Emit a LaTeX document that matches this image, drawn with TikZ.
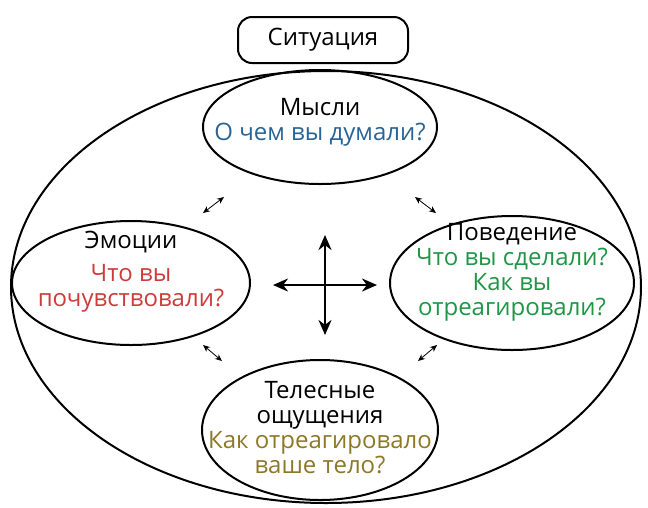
\documentclass[tikz,border=0pt]{standalone}
\usepackage{fontspec}
\setmainfont{Open Sans}
\usetikzlibrary{shapes.geometric,arrows.meta}
\definecolor{qblue}{RGB}{40,100,150}
\definecolor{qred}{RGB}{205,60,60}
\definecolor{qgreen}{RGB}{30,150,70}
\definecolor{qolive}{RGB}{140,120,40}
\begin{document}
\begin{tikzpicture}[x=1pt,y=-1pt,
  oval/.style={draw, line width=2pt, ellipse},
  txt/.style={align=center, font=\fontsize{24}{25}\selectfont},
  small/.style={{Stealth[length=7pt,width=6pt]}-{Stealth[length=7pt,width=6pt]}, line width=0.8pt},
  big/.style={{Stealth[length=15pt,width=13pt]}-{Stealth[length=15pt,width=13pt]}, line width=2.4pt}]
  \useasboundingbox (0,0) rectangle (648,507);
  \node[oval, minimum width=630, minimum height=432] (frame) at (326,287) {};
  \node[draw, line width=2pt, rounded corners=14pt, fill=white, minimum width=170, minimum height=46, txt] (sit) at (323,40) {Ситуация};
  \node[oval, minimum width=234, minimum height=114] (think) at (320,127) {};
  \node[txt] (thinkt) at (320,122) {Мысли\\\textcolor{qblue}{О чем вы думали?}};
  \node[oval, minimum width=238, minimum height=124] (emo) at (131,283) {};
  \node[txt] (emot) at (131,272) {Эмоции\\[8pt]\textcolor{qred}{Что вы}\\\textcolor{qred}{почувствовали?}};
  \node[oval, minimum width=244, minimum height=134] (act) at (512,283) {};
  \node[txt] (actt) at (512,272) {Поведение\\\textcolor{qgreen}{Что вы сделали?}\\\textcolor{qgreen}{Как вы}\\\textcolor{qgreen}{отреагировали?}};
  \node[oval, minimum width=236, minimum height=140] (body) at (320,430) {};
  \node[txt] (bodyt) at (320,428) {Телесные\\ощущения\\\textcolor{qolive}{Как отреагировало}\\\textcolor{qolive}{ваше тело?}};
  \coordinate (c) at (325,285);
  \draw[big] ([xshift=-52]c) -- ([xshift=52]c);
  \draw[big] ([yshift=-50]c) -- ([yshift=50]c);
  \coordinate (a1) at (203,213); \coordinate (a2) at (224,197);
  \coordinate (b1) at (415,197); \coordinate (b2) at (436,213);
  \coordinate (d1) at (203,345); \coordinate (d2) at (222,361);
  \coordinate (e1) at (418,361); \coordinate (e2) at (437,345);
  \draw[small] (a1) -- (a2);
  \draw[small] (b1) -- (b2);
  \draw[small] (d1) -- (d2);
  \draw[small] (e1) -- (e2);
\end{tikzpicture}
\end{document}
